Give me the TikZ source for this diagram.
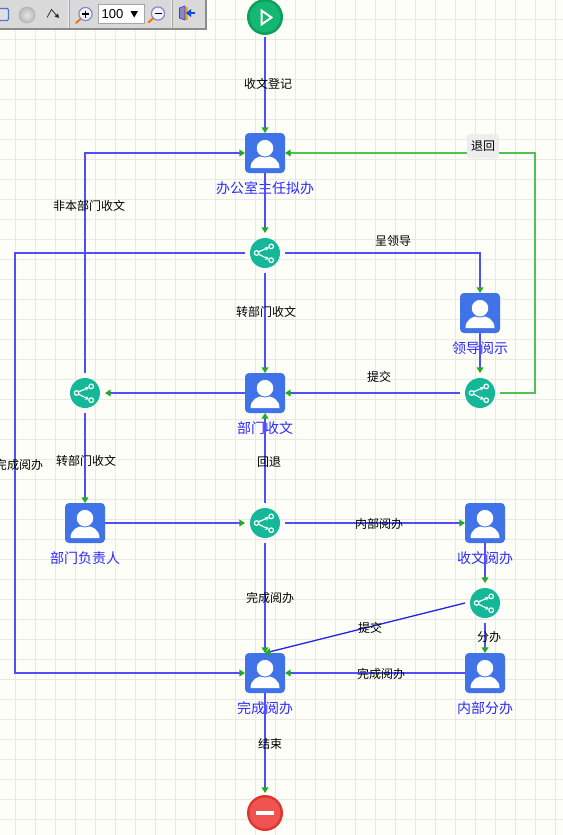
\documentclass[tikz,border=0pt]{standalone}
\usepackage{fontspec}
\setmainfont{Noto Sans CJK SC}
\newfontfamily\latinui{Liberation Sans}
\usetikzlibrary{arrows.meta}
\definecolor{paper}{HTML}{FEFEF8}
\definecolor{gridc}{HTML}{E9E9E1}
\definecolor{flowblue}{HTML}{4F4FFA}
\definecolor{diagblue}{HTML}{1E1EE6}
\definecolor{flowgreen}{HTML}{52C052}
\definecolor{tipgreen}{HTML}{22AA22}
\definecolor{taskblue}{HTML}{4072E8}
\definecolor{gwteal}{HTML}{14B898}
\definecolor{startfill}{HTML}{14B870}
\definecolor{startring}{HTML}{0E9E60}
\definecolor{endfill}{HTML}{F05450}
\definecolor{endring}{HTML}{E0352F}
\definecolor{nodetext}{HTML}{2A2AFF}
\definecolor{bargray}{HTML}{D9D9D9}
\definecolor{barline}{HTML}{8C8C8C}
\tikzset{
  x=0.75pt,y=-0.75pt,
  gridline/.style={gridc,line width=0.75pt},
  taskbox/.style={rectangle,draw=none,fill=taskblue,rounded corners=3pt,minimum size=30pt,inner sep=0pt,outer sep=0pt},
  portbox/.style={rectangle,draw=none,minimum size=30pt,inner sep=0pt,outer sep=0pt},
  flow/.style={flowblue,line width=1.2pt,-{Triangle[length=4.2pt,width=5pt,color=tipgreen]}},
  flowback/.style={flowgreen,line width=1.2pt,-{Triangle[length=4.2pt,width=5pt,color=tipgreen]}},
  flowdiag/.style={diagblue,line width=0.95pt,-{Triangle[length=4.2pt,width=5pt,color=tipgreen]}},
  tasklabel/.style={text=nodetext,font=\fontsize{10.5}{12}\selectfont,inner sep=0pt},
  edgelabel/.style={text=black,font=\fontsize{9}{11}\selectfont,inner sep=0pt,yshift=-0.5pt},
  backlabel/.style={text=black,font=\fontsize{9}{11}\selectfont,fill=black!7,rounded corners=2pt,minimum width=24pt,minimum height=18pt,inner sep=0pt},
}
\newcommand{\personicon}[1]{%
  \begin{scope}[shift={(#1.center)}]
    \fill[white] (-14.5,15) .. controls (-14.5,7) and (-8,3) .. (0,3) .. controls (8,3) and (14.5,7) .. (14.5,15) -- cycle;
    \fill[white,draw=taskblue,line width=0.6pt] (0,-4.8) circle (8.8);
  \end{scope}}
\newcommand{\gwicon}[1]{%
  \begin{scope}[shift={(#1.center)}]
    \fill[gwteal] (0,0) circle (15);
    \draw[white,line width=0.9pt,-{Stealth[length=2.8pt,width=3pt]}] (-6.5,-1.2) -- (4,-5.6);
    \draw[white,line width=0.9pt,-{Stealth[length=2.8pt,width=3pt]}] (-6.5,1.2) -- (4,6.4);
    \draw[white,line width=0.9pt,fill=gwteal] (-8.4,0) circle (2.3);
    \draw[white,line width=0.9pt,fill=gwteal] (6.2,-6.6) circle (2.3);
    \draw[white,line width=0.9pt,fill=gwteal] (6.2,7.2) circle (2.3);
  \end{scope}}
\newcommand{\lensicon}[2]{%
  \begin{scope}[shift={(#1)}]
    \draw[orange!90!red,line width=1.5pt,line cap=round] (-4.5,4.5) -- (-9.5,9);
    \draw[blue!30!gray!70,fill=blue!6,line width=0.9pt] (0,0) circle (6.6);
    \draw[black,line width=0.8pt] (-3.5,0) -- (3.5,0);
    #2
  \end{scope}}
\begin{document}
\begin{tikzpicture}
\useasboundingbox (0,0) rectangle (563,835);
\clip (0,0) rectangle (563,835);
\fill[paper] (0,0) rectangle (563,835);
\foreach \gx in {15.5,35.5,...,555.5} \draw[gridline] (\gx,0) -- (\gx,835);
\foreach \gy in {19.5,39.5,...,819.5} \draw[gridline] (0,\gy) -- (563,\gy);

% nodes
\node[portbox] (nStart) at (265,17) {};
\fill[startring] (nStart.center) circle (18);
\fill[startfill] (nStart.center) circle (15.3);
\begin{scope}[shift={(nStart.center)}]
  \draw[white,line width=1.5pt,line join=miter] (-3.5,-6.5) -- (6.5,0.5) -- (-3.5,7.5) -- cycle;
\end{scope}
\node[taskbox] (nOffice) at (265,153) {};
\personicon{nOffice}
\node[portbox] (gA) at (265,253) {};
\gwicon{gA}
\node[taskbox] (nLeader) at (480,313) {};
\personicon{nLeader}
\node[portbox] (gB) at (480,393) {};
\gwicon{gB}
\node[taskbox] (nDept) at (265,393) {};
\personicon{nDept}
\node[portbox] (gC) at (85,393) {};
\gwicon{gC}
\node[taskbox] (nHead) at (85,523) {};
\personicon{nHead}
\node[portbox] (gD) at (265,523) {};
\gwicon{gD}
\node[taskbox] (nRead) at (485,523) {};
\personicon{nRead}
\node[portbox] (gE) at (485,603) {};
\gwicon{gE}
\node[taskbox] (nDone) at (265,673) {};
\personicon{nDone}
\node[taskbox] (nInner) at (485,673) {};
\personicon{nInner}
\node[portbox] (nEnd) at (265,813) {};
\fill[endring] (nEnd.center) circle (18);
\fill[endfill] (nEnd.center) circle (15.5);
\begin{scope}[shift={(nEnd.center)}]
  \fill[white] (-9,-2.2) rectangle (9,2.2);
\end{scope}

% task captions
\node[tasklabel] (tOffice) at (265,188) {办公室主任拟办};
\node[tasklabel] (tLeader) at (480,348) {领导阅示};
\node[tasklabel] (tDept) at (265,428) {部门收文};
\node[tasklabel] (tHead) at (85,558) {部门负责人};
\node[tasklabel] (tRead) at (485,558) {收文阅办};
\node[tasklabel] (tDone) at (265,708) {完成阅办};
\node[tasklabel] (tInner) at (485,708) {内部分办};

% connectors
\coordinate (cA) at (15,253);
\coordinate (cB) at (15,673);
\coordinate (cC) at (480,253);
\coordinate (cD) at (535,393);
\coordinate (cE) at (535,153);
\coordinate (cF) at (85,153);
\draw[flow] (nStart.south) -- (nOffice.north);
\draw[flow] (nOffice.south) -- (gA.north);
\draw[flow] (gA.south) -- (nDept.north);
\draw[flow] (gA.east) -- (cC) -- (nLeader.north);
\draw[flow] (gA.west) -- (cA) -- (cB) -- (nDone.west);
\draw[flow] (nLeader.south) -- (gB.north);
\draw[flowback] (gB.east) -- (cD) -- (cE) -- (nOffice.east);
\draw[flow] (gB.west) -- (nDept.east);
\draw[flow] (nDept.west) -- (gC.east);
\draw[flow] (gC.north) -- (cF) -- (nOffice.west);
\draw[flow] (gC.south) -- (nHead.north);
\draw[flow] (nHead.east) -- (gD.west);
\draw[flow] (gD.north) -- (nDept.south);
\draw[flow] (gD.east) -- (nRead.west);
\draw[flow] (gD.south) -- (nDone.north);
\draw[flow] (nRead.south) -- (gE.north);
\draw[flow] (gE.south) -- (nInner.north);
\draw[flowdiag] (gE.west) -- (nDone.north);
\draw[flow] (nInner.west) -- (nDone.east);
\draw[flow] (nDone.south) -- (nEnd.north);

% connector labels
\node[edgelabel] (l1) at (268,83) {收文登记};
\node[backlabel] (l2) at (483,146) {退回};
\node[edgelabel] (l3) at (89,205) {非本部门收文};
\node[edgelabel] (l4) at (393,240) {呈领导};
\node[edgelabel] (l5) at (266,311) {转部门收文};
\node[edgelabel] (l6) at (379,376) {提交};
\node[edgelabel] (l7) at (19,464) {完成阅办};
\node[edgelabel] (l8) at (86,460) {转部门收文};
\node[edgelabel] (l9) at (269,462) {回退};
\node[edgelabel] (l10) at (379,523) {内部阅办};
\node[edgelabel] (l11) at (270,597) {完成阅办};
\node[edgelabel] (l12) at (370,627) {提交};
\node[edgelabel] (l13) at (489,636) {分办};
\node[edgelabel] (l14) at (381,673) {完成阅办};
\node[edgelabel] (l15) at (270,743) {结束};

% toolbar
\fill[bargray] (0,0) rectangle (207,30);
\fill[barline] (205,0) rectangle (207,30);
\fill[barline] (0,28) rectangle (207,30);
\fill[white!85!gray] (67.5,0) rectangle (68.5,28);
\fill[gray!70] (68.5,0) rectangle (69.5,28);
\fill[white!85!gray] (171,0) rectangle (172,28);
\fill[gray!70] (172,0) rectangle (173,28);
\draw[taskblue!80!gray,line width=0.9pt,fill=gray!25,rounded corners=1pt] (-6,8.5) rectangle (8.5,20.5);
\shade[inner color=gray!20,outer color=gray!55] (27,15) circle (8);
\draw[gray!60,line width=0.5pt] (27,15) circle (8);
\draw[black!80,line width=0.6pt] (47,17.5) -- (51.5,9.5) -- (57,16);
\fill[black!85] (59,18) -- (54.5,16.5) -- (58,13.5) -- cycle;
\lensicon{85.5,14}{\draw[black,line width=0.8pt] (0,-3.5) -- (0,3.5);}
\fill[white] (98,4.5) rectangle (144,23);
\draw[gray!70,line width=0.6pt] (98,4.5) rectangle (144,23);
\node[text=black,font=\latinui\fontsize{9.75}{12}\selectfont,inner sep=0pt] (zoomval) at (112.5,14.5) {100};
\fill[black] (130.5,11) -- (138,11) -- (134.2,17.5) -- cycle;
\lensicon{158,13.5}{}
\fill[blue!35!gray!70] (179.5,8) -- (185,6) -- (185,20) -- (179.5,18) -- cycle;
\fill[orange!70!yellow] (185,6.5) rectangle (188,20);
\draw[blue!50!gray,line width=0.5pt] (179.5,8) -- (185,6) -- (185,20) -- (179.5,18) -- cycle;
\draw[blue!70!cyan,line width=1.6pt] (195,13) -- (190,13);
\fill[blue!70!cyan] (186,13) -- (191,9) -- (191,17) -- cycle;
\end{tikzpicture}
\end{document}
